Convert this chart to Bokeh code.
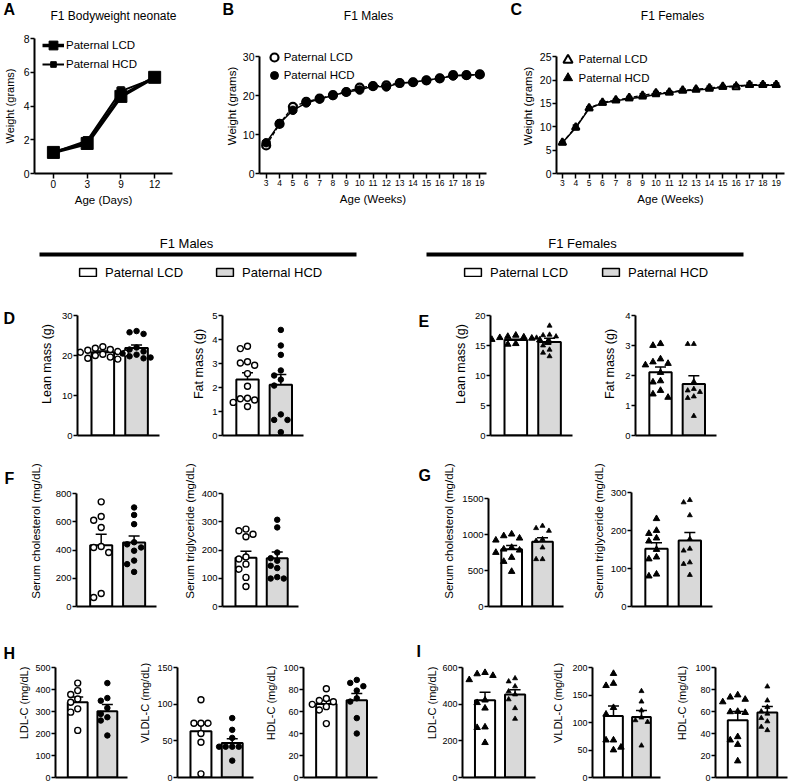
import numpy as np
from bokeh.plotting import figure
from bokeh.models import (Range1d, FixedTicker, Label, Legend, LegendItem, Grid,
                          Whisker, TeeHead, ColumnDataSource, BoxAnnotation)
from bokeh.layouts import row, column
from bokeh.embed import file_html
from bokeh.resources import INLINE

FONT = "Liberation Sans"

# ---------------- data ----------------
groups = ["Paternal LCD", "Paternal HCD"]
bar_colors = ["white", "#d9d9d9"]

neonate_age = [0, 3, 9, 12]
neonate_lcd = [1.25, 1.78, 4.57, 5.70]
neonate_lcd_sem = [0.08, 0.12, 0.15, 0.15]
neonate_hcd = [1.25, 1.95, 4.88, 5.65]
neonate_hcd_sem = [0.06, 0.10, 0.25, 0.18]

weeks = list(range(3, 20))
male_lcd = [7.2, 12.7, 17.1, 18.4, 19.2, 20.1, 20.9, 22.0, 22.4, 22.6, 23.2, 23.4, 23.9, 24.4, 25.2, 25.2, 25.4]
male_lcd_sem = [0.4, 0.4, 0.4, 0.3, 0.3, 0.3, 0.3, 0.4, 0.4, 0.4, 0.4, 0.4, 0.4, 0.4, 0.4, 0.4, 0.4]
male_hcd = [7.9, 12.8, 16.2, 18.1, 19.1, 20.0, 20.9, 21.4, 22.4, 22.2, 23.2, 23.4, 23.9, 24.4, 25.0, 25.2, 25.4]
male_hcd_sem = [0.3, 0.4, 0.4, 0.3, 0.3, 0.3, 0.3, 0.3, 0.4, 0.4, 0.4, 0.4, 0.4, 0.4, 0.4, 0.4, 0.4]
female_lcd = [6.6, 9.9, 14.0, 15.2, 15.7, 16.2, 16.7, 17.2, 17.4, 17.8, 18.0, 18.3, 18.6, 18.5, 19.0, 19.0, 19.0]
female_lcd_sem = [0.2, 0.5, 0.3, 0.3, 0.3, 0.3, 0.4, 0.4, 0.3, 0.3, 0.3, 0.4, 0.3, 0.4, 0.5, 0.4, 0.4]
female_hcd = [6.6, 9.8, 13.9, 15.1, 15.6, 16.0, 16.4, 16.9, 17.3, 17.7, 17.9, 18.1, 18.5, 18.8, 18.9, 18.9, 18.9]
female_hcd_sem = [0.2, 0.4, 0.3, 0.3, 0.3, 0.3, 0.3, 0.3, 0.3, 0.3, 0.3, 0.3, 0.3, 0.3, 0.4, 0.4, 0.4]

lean_m_lcd = [22.2, 21.8, 21.5, 21.3, 21.0, 20.8, 20.6, 20.3, 20.0, 19.6, 19.3, 19.1]
lean_m_hcd = [26.1, 25.8, 25.4, 22.0, 21.5, 21.0, 20.5, 20.2, 19.8, 19.5, 19.3]
lean_m_mean = [20.8, 21.9]
lean_m_sem = [0.3, 0.75]

fat_m_lcd = [3.72, 3.62, 3.07, 3.02, 2.93, 2.58, 2.05, 1.55, 1.53, 1.48, 1.38, 1.21]
fat_m_hcd = [4.40, 3.75, 3.36, 2.71, 2.50, 2.33, 2.08, 0.88, 0.65, 0.65, 0.14]
fat_m_mean = [2.33, 2.11]
fat_m_sem = [0.28, 0.43]

lean_f_lcd = [16.7, 16.5, 16.4, 16.3, 16.2, 16.0, 15.9, 15.8, 15.6, 15.5, 15.3, 15.2]
lean_f_hcd = [18.3, 16.8, 16.7, 16.5, 16.3, 15.7, 15.0, 14.3, 13.8, 13.2]
lean_f_mean = [15.9, 15.6]
lean_f_sem = [0.15, 0.6]

fat_f_lcd = [3.06, 3.0, 2.55, 2.45, 2.4, 2.35, 2.1, 1.82, 1.78, 1.5, 1.38, 1.27]
fat_f_hcd = [3.05, 3.05, 1.8, 1.55, 1.5, 1.45, 1.3, 1.25, 0.65]
fat_f_mean = [2.11, 1.72]
fat_f_sem = [0.17, 0.27]

chol_m_lcd = [741, 637, 611, 559, 425, 418, 382, 92, 64]
chol_m_hcd = [701, 648, 583, 455, 440, 418, 395, 325, 300, 245]
chol_m_mean = [434, 453]
chol_m_sem = [78, 47]

tg_m_lcd = [274, 268, 256, 247, 175, 168, 150, 132, 103, 71]
tg_m_hcd = [307, 280, 191, 171, 162, 144, 136, 104, 99, 99]
tg_m_mean = [173, 171]
tg_m_sem = [23, 22]

chol_f_lcd = [1005, 981, 949, 921, 819, 796, 782, 750, 681, 625, 486]
chol_f_hcd = [1120, 1088, 1051, 935, 912, 819, 657, 657]
chol_f_mean = [796, 898]
chol_f_sem = [50, 58]

tg_f_lcd = [231, 200, 192, 180, 172, 150, 130, 125, 85, 80]
tg_f_hcd = [280, 274, 240, 178, 152, 147, 116, 112, 83]
tg_f_mean = [152, 174]
tg_f_sem = [16, 21]

ldl_m_lcd = [429, 395, 377, 357, 342, 312, 297, 214]
ldl_m_hcd = [429, 361, 349, 316, 289, 274, 259, 191]
ldl_m_mean = [342, 301]
ldl_m_sem = [24, 31]

vldl_m_lcd = [106, 74, 74, 74, 60, 48, 5]
vldl_m_hcd = [81, 65, 54, 42, 42, 42, 42, 23]
vldl_m_mean = [63, 47]
vldl_m_sem = [10, 6]

hdl_m_lcd = [80.7, 71.8, 70, 68.8, 66.5, 64.4, 61.4, 49]
hdl_m_hcd = [88.7, 86, 83, 79, 72, 69, 54, 40]
hdl_m_mean = [66.8, 70.3]
hdl_m_sem = [3.3, 6]

ldl_f_lcd = [572, 565, 556, 533, 422, 408, 378, 275, 272, 190]
ldl_f_hcd = [541, 524, 497, 470, 453, 426, 378, 320]
ldl_f_mean = [421, 453]
ldl_f_sem = [44, 25]

vldl_f_lcd = [189, 171, 167, 127, 115, 68, 68, 55, 50]
vldl_f_hcd = [157, 138, 122, 109, 104, 101, 58]
vldl_f_mean = [112, 110]
vldl_f_sem = [18, 12]

hdl_f_lcd = [75, 73, 71, 68.7, 60, 59.7, 59, 37, 34, 30, 15]
hdl_f_hcd = [82.7, 70, 64, 60, 58, 54, 51, 46, 43]
hdl_f_mean = [52, 59]
hdl_f_sem = [8, 5.6]


# ---------------- helpers ----------------
def make_fig(width, height, mbl, mbt, fw, fh, xr, yr, axes=True):
    kw = {}
    if not axes:
        kw = dict(x_axis_location=None, y_axis_location=None)
    p = figure(width=width, height=height, x_range=xr, y_range=yr,
               min_border_left=mbl, min_border_right=width - mbl - fw,
               min_border_top=mbt, min_border_bottom=height - mbt - fh,
               output_backend="svg", toolbar_location=None, title=None, **kw)
    p.outline_line_color = None
    p.background_fill_color = "white"
    p.border_fill_color = "white"
    for g in p.select(type=Grid):
        g.visible = False
    return p


def text_fig(width, height, mbb=0):
    return make_fig(width, height, 0, 0, width, height - mbb, Range1d(0, 1), Range1d(0, 1), axes=False)


def frame_h(p):
    return p.height - p.min_border_top - p.min_border_bottom


def put_text(p, fx, fy, text, size, bold=False, align="left", baseline="top"):
    p.add_layout(Label(x=fx - p.min_border_left, y=p.min_border_top + frame_h(p) - fy,
                       x_units="screen", y_units="screen", text=text,
                       text_font=FONT, text_font_size=f"{size}px",
                       text_font_style="bold" if bold else "normal",
                       text_color="black", text_align=align, text_baseline=baseline))


def put_legend(p, renderers, label, x_rel, cy_from_top, gw, gh, standoff, size, lh=None):
    lh = gh if lh is None else lh
    h = max(gh, lh)
    leg = Legend(items=[LegendItem(label=label, renderers=renderers)],
                 location=(x_rel, frame_h(p) - cy_from_top - h / 2),
                 glyph_width=gw, glyph_height=gh, label_height=lh,
                 label_standoff=standoff, padding=0, margin=0, spacing=0,
                 border_line_color=None, background_fill_alpha=0,
                 label_text_font=FONT, label_text_font_size=f"{size}px",
                 label_text_color="black")
    p.add_layout(leg)


def style_axis(ax, tick_size, label_size, label_standoff, tick_out=4, lw=2):
    ax.axis_line_color = "black"
    ax.axis_line_width = lw
    ax.major_tick_line_color = "black"
    ax.major_tick_line_width = 1.5
    ax.major_tick_out = tick_out
    ax.major_tick_in = 0
    ax.minor_tick_line_color = None
    ax.major_label_standoff = 1
    ax.major_label_text_font = FONT
    ax.major_label_text_font_size = f"{tick_size}px"
    ax.major_label_text_color = "black"
    ax.axis_label_text_font = FONT
    ax.axis_label_text_font_size = f"{label_size}px"
    ax.axis_label_text_font_style = "normal"
    ax.axis_label_text_color = "black"
    ax.axis_label_standoff = int(round(label_standoff))


def swarm(vals, px_per_unit, marker_px):
    placed = []
    slots = [0] * len(vals)
    order = sorted(range(len(vals)), key=lambda k: -vals[k])
    cand = [0, -1, 1, -2, 2, -3, 3, -4, 4]
    for k in order:
        y = vals[k] * px_per_unit
        chosen = cand[-1]
        for c in cand:
            if all(abs(c - s) >= 1 or abs(y - yy) >= marker_px for s, yy in placed):
                chosen = c
                break
        slots[k] = chosen
        placed.append((chosen, y))
    return slots


point_styles = {
    "m": [dict(marker="circle", size=6, fill_color="white", line_width=1.4),
          dict(marker="circle", size=5.5, fill_color="black", line_width=1)],
    "f": [dict(marker="triangle", size=6.5, fill_color="black", line_width=1),
          dict(marker="triangle", size=5, fill_color="black", line_width=0.8)],
}


def add_whisker(p, xs, mean, sem, size, lw):
    src = ColumnDataSource(dict(base=list(xs),
                                upper=[m + s for m, s in zip(mean, sem)],
                                lower=[m - s for m, s in zip(mean, sem)]))
    p.add_layout(Whisker(source=src, base="base", upper="upper", lower="lower",
                         line_color="black", line_width=lw,
                         upper_head=TeeHead(size=size, line_width=lw, line_color="black"),
                         lower_head=TeeHead(size=size, line_width=lw, line_color="black")))


def bar_panel(width, mbl, fw, row_h, mbb, axis_top, ymax, ystep, ylabel, lab_std, lab_size,
              mean, sem, pts_lcd, pts_hcd, sex, tick_size=9.5, x_end=1.68):
    # the frame spans the whole row height; the y axis is bounded to [0, ymax]
    x_start = -0.75
    fh = row_h - mbb
    axis_h = fh - axis_top
    p = make_fig(width, row_h, mbl, 0, fw, fh, Range1d(x_start, x_end),
                 Range1d(0, ymax * fh / axis_h))
    xs = list(range(len(groups)))
    p.vbar(x=xs, top=mean, width=0.67, fill_color=bar_colors, line_color="black", line_width=2)
    px_y = axis_h / ymax
    px_x = fw / (x_end - x_start)
    for i, pts in enumerate([pts_lcd, pts_hcd]):
        st = point_styles[sex][i]
        slots = swarm(pts, px_y, st["size"] + 1)
        xj = [xs[i] + s * (st["size"] + 1.5) / px_x for s in slots]
        p.scatter(xj, pts, marker=st["marker"], size=st["size"], fill_color=st["fill_color"],
                  line_color="black", line_width=st["line_width"])
    add_whisker(p, xs, mean, sem, 11, 1.5)
    ticks = [float(t) for t in np.arange(0, ymax + ystep / 2, ystep)]
    p.yaxis.ticker = FixedTicker(ticks=ticks)
    p.yaxis.bounds = (0, ymax)
    p.yaxis.axis_label = ylabel
    style_axis(p.yaxis[0], tick_size, lab_size, lab_std)
    p.xaxis.ticker = FixedTicker(ticks=[])
    style_axis(p.xaxis[0], 1, 1, 0, tick_out=0)
    p.xaxis.major_label_text_font_size = "0px"
    return p


# ---------------- row 1: panel letters and titles ----------------
strip = text_fig(789, 25)
for x, letter in [(3, "A"), (222, "B"), (510, "C")]:
    put_text(strip, x, 0, letter, 16, bold=True)
for x, t in [(113, "F1 Bodyweight neonate"), (368, "F1 Males"), (672, "F1 Females")]:
    put_text(strip, x, 15, t, 12, align="center", baseline="middle")

# ---------------- row 1: growth curves ----------------
R1H, MBT1, FH1 = 190, 13, 135

# A
xa = list(range(len(neonate_age)))
pA = make_fig(222, R1H, 33, MBT1, 139, FH1, Range1d(-0.56, -0.56 + 139 / 34), Range1d(0, 8))
lA1 = pA.line(xa, neonate_lcd, line_width=3.5, color="black")
add_whisker(pA, xa, neonate_lcd, neonate_lcd_sem, 7, 1.2)
sA1 = pA.scatter(xa, neonate_lcd, marker="square", size=12, color="black")
lA2 = pA.line(xa, neonate_hcd, line_width=2, color="black")
add_whisker(pA, xa, neonate_hcd, neonate_hcd_sem, 7, 1.2)
sA2 = pA.scatter(xa, neonate_hcd, marker="square", size=8, color="black")
pA.xaxis.ticker = FixedTicker(ticks=xa)
pA.xaxis.major_label_overrides = {i: str(a) for i, a in zip(xa, neonate_age)}
pA.yaxis.ticker = FixedTicker(ticks=[0, 2, 4, 6, 8])
pA.xaxis.axis_label = "Age (Days)"
pA.yaxis.axis_label = "Weight (grams)"
style_axis(pA.xaxis[0], 10, 11.5, 3, tick_out=5)
style_axis(pA.yaxis[0], 10.5, 11, 5)
put_legend(pA, [lA1, sA1], groups[0], 8, 7, 22, 28, 2, 11.5)
put_legend(pA, [lA2, sA2], groups[1], 8, 26, 22, 14, 2, 11.5)

# B
pB = make_fig(296, R1H, 34, MBT1, 230, FH1, Range1d(2.5, 19.5), Range1d(0, FH1 / 3.9))
pB.line(weeks, male_lcd, line_width=1.5, color="black", line_dash="4 2")
pB.line(weeks, male_hcd, line_width=1.5, color="black")
add_whisker(pB, weeks, male_lcd, male_lcd_sem, 6, 1.2)
add_whisker(pB, weeks, male_hcd, male_hcd_sem, 6, 1.2)
sB1 = pB.scatter(weeks, male_lcd, marker="circle", size=8, fill_color="white", line_color="black", line_width=2.2)
sB2 = pB.scatter(weeks, male_hcd, marker="circle", size=8.5, fill_color="black", line_color="black")
pB.xaxis.ticker = FixedTicker(ticks=weeks)
pB.yaxis.ticker = FixedTicker(ticks=[0, 10, 20, 30])
pB.yaxis.bounds = (0, 30)
pB.xaxis.axis_label = "Age (Weeks)"
pB.yaxis.axis_label = "Weight (grams)"
style_axis(pB.xaxis[0], 8.5, 11.5, 4, tick_out=5)
style_axis(pB.yaxis[0], 10.5, 11.5, 2)
put_legend(pB, [sB1], groups[0], 4.7, 19, 20, 20, -3, 11.5)
put_legend(pB, [sB2], groups[1], 4.7, 37, 20, 20, -3, 11.5)

# C
pC = make_fig(271, R1H, 34, MBT1, 232, FH1, Range1d(2.56, 2.56 + 232 / 13.6), Range1d(0, FH1 / 4.67))
pC.line(weeks, female_lcd, line_width=1.5, color="black", line_dash="4 2")
pC.line(weeks, female_hcd, line_width=1.5, color="black")
add_whisker(pC, weeks, female_lcd, female_lcd_sem, 6, 1.2)
add_whisker(pC, weeks, female_hcd, female_hcd_sem, 6, 1.2)
sC1 = pC.scatter(weeks, female_lcd, marker="triangle", size=7.5, fill_color="white", line_color="black", line_width=2)
sC2 = pC.scatter(weeks, female_hcd, marker="triangle", size=7.5, fill_color="black", line_color="black")
pC.xaxis.ticker = FixedTicker(ticks=weeks)
pC.yaxis.ticker = FixedTicker(ticks=[0, 5, 10, 15, 20, 25])
pC.yaxis.bounds = (0, 25)
pC.xaxis.axis_label = "Age (Weeks)"
pC.yaxis.axis_label = "Weight (grams)"
style_axis(pC.xaxis[0], 8.5, 11.5, 4, tick_out=5)
style_axis(pC.yaxis[0], 10.5, 11.5, 3)
put_legend(pC, [sC1], groups[0], -0.5, 21.3, 23, 23, -4, 11.5)
put_legend(pC, [sC2], groups[1], -0.5, 39.7, 23, 23, -4, 11.5)

# ---------------- header with group legends ----------------
HH = 77
hp = text_fig(789, HH)
nan_src = ColumnDataSource(dict(x=np.array([np.nan]), top=np.array([np.nan])))
r_lcd = hp.vbar(x="x", top="top", source=nan_src, width=0.1, fill_color=bar_colors[0],
                line_color="black", line_width=1.5)
r_hcd = hp.vbar(x="x", top="top", source=nan_src, width=0.1, fill_color=bar_colors[1],
                line_color="black", line_width=1.5)
for (x0, x1, tx, title) in [(39, 356, 186, "F1 Males"), (426, 743, 582, "F1 Females")]:
    hp.add_layout(BoxAnnotation(left=x0, right=x1, bottom=HH - 41, top=HH - 37,
                                left_units="screen", right_units="screen",
                                top_units="screen", bottom_units="screen",
                                fill_color="black", fill_alpha=1, line_color=None))
    put_text(hp, tx, 28, title, 13, align="center", baseline="middle")
for x, r, lab in [(77, r_lcd, groups[0]), (214, r_hcd, groups[1]),
                  (462, r_lcd, groups[0]), (600, r_hcd, groups[1])]:
    put_legend(hp, [r], lab, x, 57, 21, 10, 7, 13, lh=16)

# ---------------- D / E ----------------
DH, DMB, DTOP = 163, 20, 23
lD = text_fig(20, DH, DMB)
put_text(lD, 3, 17, "D", 16, bold=True)
d1 = bar_panel(169, 57, 82, DH, DMB, DTOP, 30, 10, "Lean mass (g)", 5, 12.5,
               lean_m_mean, lean_m_sem, lean_m_lcd, lean_m_hcd, "m")
d2 = bar_panel(211, 29, 85, DH, DMB, DTOP, 5, 1, "Fat mass (g)", 3, 12.5,
               fat_m_mean, fat_m_sem, fat_m_lcd, fat_m_hcd, "m")
lE = text_fig(40, DH, DMB)
put_text(lE, 18, 20, "E", 16, bold=True)
e1 = bar_panel(160, 50, 82, DH, DMB, DTOP, 20, 5, "Lean mass (g)", 4, 12.5,
               lean_f_mean, lean_f_sem, lean_f_lcd, lean_f_hcd, "f")
e2 = bar_panel(189, 30, 86, DH, DMB, DTOP, 4, 1, "Fat mass (g)", 5, 12.5,
               fat_f_mean, fat_f_sem, fat_f_lcd, fat_f_hcd, "f")

# ---------------- F / G ----------------
FRH, FMB, FTOP = 173, 22, 38
lF = text_fig(20, FRH, FMB)
put_text(lF, 4, 14, "F", 16, bold=True)
f1 = bar_panel(160, 56, 80, FRH, FMB, FTOP, 800, 200, "Serum cholesterol (mg/dL)", 11, 11.5,
               chol_m_mean, chol_m_sem, chol_m_lcd, chol_m_hcd, "m")
f2 = bar_panel(220, 37, 81, FRH, FMB, FTOP, 400, 100, "Serum triglyceride (mg/dL)", 3, 11.5,
               tg_m_mean, tg_m_sem, tg_m_lcd, tg_m_hcd, "m")
lG = text_fig(40, FRH, FMB)
put_text(lG, 18, 11, "G", 16, bold=True)
g1 = bar_panel(149, 47, 76, FRH, FMB, FTOP + 5, 1500, 500, "Serum cholesterol (mg/dL)", 4, 11.5,
               chol_f_mean, chol_f_sem, chol_f_lcd, chol_f_hcd, "f")
g2 = bar_panel(200, 38, 85, FRH, FMB, FTOP - 1, 300, 100, "Serum triglyceride (mg/dL)", 3, 11.5,
               tg_f_mean, tg_f_sem, tg_f_lcd, tg_f_hcd, "f")

# ---------------- H / I ----------------
HRH, HMB, HTOP = 153, 4, 39
lH = text_fig(15, HRH, HMB)
put_text(lH, 3, 16, "H", 16, bold=True)
h1 = bar_panel(121, 35, 77, HRH, HMB, HTOP, 500, 100, "LDL-C (mg/dL)", 2, 11,
               ldl_m_mean, ldl_m_sem, ldl_m_lcd, ldl_m_hcd, "m", tick_size=9)
h2 = bar_panel(126, 36, 81, HRH, HMB, HTOP, 150, 50, "VLDL-C (mg/dL)", 3, 11,
               vldl_m_mean, vldl_m_sem, vldl_m_lcd, vldl_m_hcd, "m", tick_size=9)
h3 = bar_panel(138, 36, 79, HRH, HMB, HTOP, 100, 20, "HDL-C (mg/dL)", 3, 11,
               hdl_m_mean, hdl_m_sem, hdl_m_lcd, hdl_m_hcd, "m", tick_size=9)
lI = text_fig(23, HRH, HMB)
put_text(lI, 16, 14, "I", 16, bold=True)
i1 = bar_panel(126, 38, 74, HRH, HMB, HTOP, 600, 200, "LDL-C (mg/dL)", 1, 11,
               ldl_f_mean, ldl_f_sem, ldl_f_lcd, ldl_f_hcd, "f", tick_size=9)
i2 = bar_panel(124, 38, 73, HRH, HMB, HTOP, 200, 50, "VLDL-C (mg/dL)", 5, 11,
               vldl_f_mean, vldl_f_sem, vldl_f_lcd, vldl_f_hcd, "f", tick_size=9)
i3 = bar_panel(116, 37, 77, HRH, HMB, HTOP, 100, 20, "HDL-C (mg/dL)", 4, 11,
               hdl_f_mean, hdl_f_sem, hdl_f_lcd, hdl_f_hcd, "f", tick_size=9)

layout = column(strip, row(pA, pB, pC), hp,
                row(lD, d1, d2, lE, e1, e2),
                row(lF, f1, f2, lG, g1, g2),
                row(lH, h1, h2, h3, lI, i1, i2, i3))

open("out.html", "w").write(file_html(layout, INLINE, title="F1 offspring"))
